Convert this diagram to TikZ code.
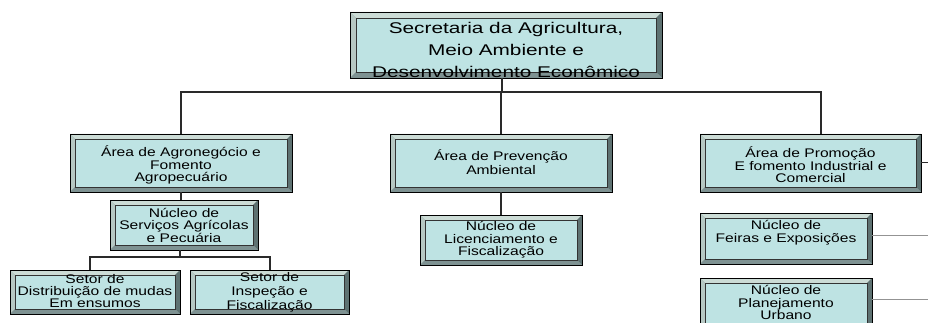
\documentclass[tikz,border=0pt]{standalone}
\usepackage{fontspec}
\setmainfont{Liberation Sans}
\newfontfamily\bigf[FakeStretch=1.34]{Liberation Sans}
\newfontfamily\smf[FakeStretch=1.25]{Liberation Sans}
\usetikzlibrary{calc}
\definecolor{boxfill}{HTML}{BEE3E3}
\definecolor{bevtop}{HTML}{CCDCD6}
\definecolor{bevleft}{HTML}{B6C8C3}
\definecolor{bevright}{HTML}{5E7272}
\definecolor{bevbot}{HTML}{7E9292}
\definecolor{linec}{HTML}{2A2A2A}
\tikzset{
  bevw/.store in=\bevw, bevw=5pt,
  bev/.style={draw=black, line width=0.7pt, fill=bevbot, inner sep=0pt,
    path picture={
      \coordinate (NW) at (path picture bounding box.north west);
      \coordinate (NE) at (path picture bounding box.north east);
      \coordinate (SW) at (path picture bounding box.south west);
      \coordinate (SE) at (path picture bounding box.south east);
      \fill[bevtop] (NW) -- (NE) -- ($(NE)+(-\bevw,-\bevw)$) -- ($(NW)+(\bevw,-\bevw)$) -- cycle;
      \fill[bevleft] (NW) -- (SW) -- ($(SW)+(\bevw,\bevw)$) -- ($(NW)+(\bevw,-\bevw)$) -- cycle;
      \fill[bevright] (NE) -- (SE) -- ($(SE)+(-\bevw,\bevw)$) -- ($(NE)+(-\bevw,-\bevw)$) -- cycle;
      \fill[bevbot] (SW) -- (SE) -- ($(SE)+(-\bevw,\bevw)$) -- ($(SW)+(\bevw,\bevw)$) -- cycle;
      \draw[black!80, line width=0.5pt, fill=boxfill] ($(NW)+(\bevw,-\bevw)$) rectangle ($(SE)+(-\bevw,\bevw)$);
    }},
  txt/.style={inner sep=0pt, align=center, text=black,
    font=\smf\fontsize{12.5pt}{12.5pt}\selectfont},
  conn/.style={draw=linec, line width=1.3pt},
  gconn/.style={draw=gray!85, line width=1pt},
}
\begin{document}
\begin{tikzpicture}[x=1pt,y=-1pt]
\useasboundingbox (0,0) rectangle (928,323);
\clip (0,0) rectangle (928,323);
\fill[white] (0,0) rectangle (928,323);

% boxes
\node[bev, bevw=6pt, minimum width=312pt, minimum height=66pt] (top) at (506,45) {};
\node[bev, minimum width=222pt, minimum height=58pt] (a1) at (181,163) {};
\node[bev, minimum width=222pt, minimum height=58pt] (a2) at (501,163) {};
\node[bev, minimum width=221pt, minimum height=58pt] (a3) at (810.5,163) {};
\node[bev, minimum width=148pt, minimum height=50pt] (n1) at (184,225) {};
\node[bev, minimum width=170pt, minimum height=44pt] (s1) at (95,292) {};
\node[bev, minimum width=159pt, minimum height=44pt] (s2) at (269.5,292) {};
\node[bev, minimum width=162pt, minimum height=50pt] (l1) at (501,240) {};
\node[bev, minimum width=172pt, minimum height=51pt] (f1) at (786,238.5) {};
\node[bev, minimum width=172pt, minimum height=60pt] (p1) at (786,308) {};

% texts
\node[txt, font=\bigf\fontsize{15.5pt}{22pt}\selectfont] (ttop) at ([yshift=-4.5pt]top.center)
  {Secretaria da Agricultura,\\Meio Ambiente e\\Desenvolvimento Econômico};
\node[txt] (ta1) at ([yshift=-2pt]a1.center) {Área de Agronegócio e\\Fomento\\Agropecuário};
\node[txt, font=\smf\fontsize{12.5pt}{14.3pt}\selectfont] (ta2) at ([yshift=1pt]a2.center)
  {Área de Prevenção\\Ambiental};
\node[txt] (ta3) at ([yshift=-2pt]a3.center) {Área de Promoção\\E fomento Industrial e\\Comercial};
\node[txt] (tn1) at (n1.center) {Núcleo de\\Serviços Agrícolas\\e Pecuária};
\node[txt, font=\smf\fontsize{12.5pt}{12pt}\selectfont] (ts1) at ([yshift=0.5pt]s1.center)
  {Setor de\\Distribuição de mudas\\Em ensumos};
\node[txt, font=\smf\fontsize{12.5pt}{14pt}\selectfont] (ts2) at (s2.center)
  {Setor de\\Inspeção e\\Fiscalização};
\node[txt] (tl1) at (l1.center) {Núcleo de\\Licenciamento e\\Fiscalização};
\node[txt] (tf1) at ([yshift=6pt]f1.center) {Núcleo de\\Feiras e Exposições};
\node[txt] (tp1) at ([yshift=5.5pt]p1.center) {Núcleo de\\Planejamento\\Urbano};

% connectors
\coordinate (bus) at (502,92);
\coordinate (j3) at (821,92);
\draw[conn] (top.south -| bus) -- (bus);
\draw[conn] (a1.north) |- (j3) -- (j3 |- a3.north);
\draw[conn] (a2.north) -- (a2.north |- bus);
\draw[conn] (a1.south) -- (a1.south |- n1.north);
\draw[conn] (a2.south) -- (a2.south |- l1.north);

\coordinate (nb) at (180,257);
\coordinate (k1) at (90,257);
\coordinate (k2) at (270,257);
\draw[conn] (n1.south -| nb) -- (nb);
\draw[conn] (k1 |- s1.north) -- (k1) -- (k2) -- (k2 |- s2.north);

\coordinate (rv) at (940,0);
\draw[conn, line width=1pt] (a3.east) -- (a3.east -| rv);
\draw[gconn] ([yshift=3.5pt]f1.east) -- ([yshift=3.5pt]f1.east -| rv);
\draw[gconn] ([yshift=9pt]p1.east) -- ([yshift=9pt]p1.east -| rv);
\end{tikzpicture}
\end{document}
